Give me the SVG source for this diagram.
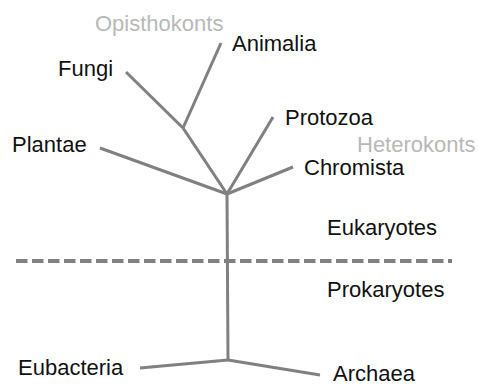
<svg xmlns="http://www.w3.org/2000/svg" width="478" height="386" viewBox="0 0 478 386">
<style>
.lbl{font-family:"Liberation Sans",Arial,Helvetica,sans-serif;font-size:22px;fill:#111}
.grp{font-family:"Liberation Sans",Arial,Helvetica,sans-serif;font-size:22px;fill:#b8b8b8}
.br{stroke:#808080;stroke-width:3;fill:none;stroke-linecap:butt}
.dash{stroke:#808080;stroke-width:4;stroke-dasharray:11.5 4.5;fill:none}
</style>
<rect width="478" height="386" fill="#fff"/>
<g id="connectors">
<line class="br" x1="126" y1="72" x2="183" y2="128"/>
<line class="br" x1="221" y1="43" x2="183" y2="128"/>
<line class="br" x1="183" y1="128" x2="227" y2="194"/>
<line class="br" x1="100" y1="148" x2="227" y2="194"/>
<line class="br" x1="273" y1="117" x2="227" y2="194"/>
<line class="br" x1="293" y1="167" x2="227" y2="194"/>
<line class="br" x1="227" y1="194" x2="228" y2="360"/>
<line class="br" x1="140" y1="368" x2="228" y2="360"/>
<line class="br" x1="228" y1="360" x2="320" y2="375"/>
<line class="dash" x1="16" y1="261" x2="452" y2="261"/>
</g>
<g id="opisthokonts"><text class="grp" x="95" y="31">Opisthokonts</text></g>
<g id="animalia"><text class="lbl" x="232" y="51">Animalia</text></g>
<g id="fungi"><text class="lbl" x="58" y="76">Fungi</text></g>
<g id="plantae"><text class="lbl" x="12" y="152">Plantae</text></g>
<g id="protozoa"><text class="lbl" x="285" y="125">Protozoa</text></g>
<g id="heterokonts"><text class="grp" x="357" y="152">Heterokonts</text></g>
<g id="chromista"><text class="lbl" x="304" y="175">Chromista</text></g>
<g id="eukaryotes"><text class="lbl" x="327" y="235">Eukaryotes</text></g>
<g id="prokaryotes"><text class="lbl" x="327" y="297">Prokaryotes</text></g>
<g id="eubacteria"><text class="lbl" x="18" y="375">Eubacteria</text></g>
<g id="archaea"><text class="lbl" x="333" y="381">Archaea</text></g>
</svg>
